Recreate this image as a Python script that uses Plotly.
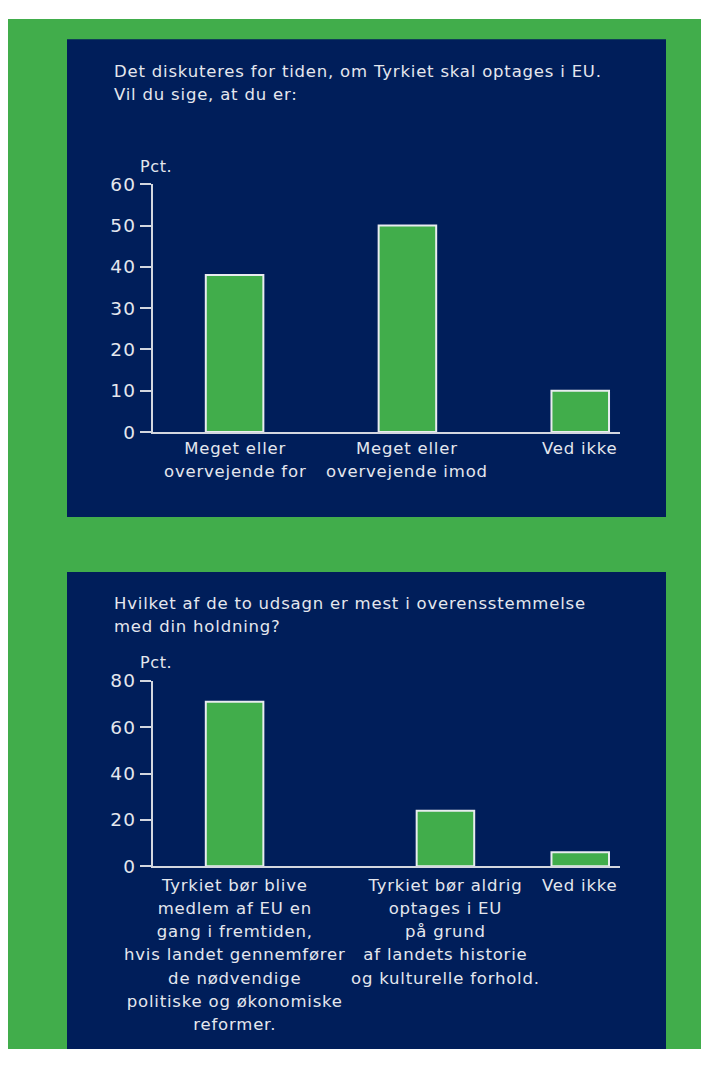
import plotly.graph_objects as go

# ---------------- data ----------------
q1_title = "Det diskuteres for tiden, om Tyrkiet skal optages i EU.<br>Vil du sige, at du er:"
q1_categories = ["Meget eller<br>overvejende for", "Meget eller<br>overvejende imod", "Ved ikke"]
q1_values = [38, 50, 10]
q1_yticks = [0, 10, 20, 30, 40, 50, 60]

q2_title = "Hvilket af de to udsagn er mest i overensstemmelse<br>med din holdning?"
q2_categories = [
    "Tyrkiet bør blive<br>medlem af EU en<br>gang i fremtiden,<br>hvis landet gennemfører<br>de nødvendige<br>politiske og økonomiske<br>reformer.",
    "Tyrkiet bør aldrig<br>optages i EU<br>på grund<br>af landets historie<br>og kulturelle forhold.",
    "Ved ikke",
]
q2_values = [71, 24, 6]
q2_yticks = [0, 20, 40, 60, 80]

unit_label = "Pct."

# ---------------- style / layout ----------------
PAGE_W, PAGE_H = 709, 1067
OFF = 8                      # browser body margin (horizontal)
TOP = 18                     # observed vertical page offset of the figure
SY = 0.9807                  # observed vertical scale of the captured page
W, H = PAGE_W - 2 * OFF, PAGE_H - 2 * OFF
GREEN = "#41AD4B"
NAVY = "#001E5A"
TXT = "#E4E7EE"
AXC = "#D3D7DF"
FONT = "DejaVu Sans"
FS = 16.5          # glyph size
LSP = 0.8          # letter spacing
LS = 17.8          # base size used for line spacing (~23px leading)

# slot positions on the x axes (layout, not data)
slots1 = [0, 1, 2]
slots2 = [0, 1.22, 2]
xrange_ = [-0.472, 2.23]
bar_w = 0.333


def px(x):
    return (x - OFF) / W


def py(y):
    return min(1.0, max(0.0, 1 - (y / SY - TOP) / H))


def sized(t, fs=FS, lsp=LSP):
    return f'<span style="font-size:{fs}px;letter-spacing:{lsp}px">{t}</span>'


fig = go.Figure()

fig.add_trace(go.Bar(
    x=slots1, y=q1_values, width=bar_w, xaxis="x", yaxis="y",
    marker=dict(color=GREEN, line=dict(color="#E8ECEF", width=2)),
    hoverinfo="skip", showlegend=False,
))
fig.add_trace(go.Bar(
    x=slots2, y=q2_values, width=bar_w, xaxis="x2", yaxis="y2",
    marker=dict(color=GREEN, line=dict(color="#E8ECEF", width=2)),
    hoverinfo="skip", showlegend=False,
))

xcommon = dict(
    range=xrange_, showgrid=False, zeroline=False, showline=True,
    linecolor=AXC, linewidth=2, ticks="", showticklabels=False, fixedrange=True,
)
ycommon = dict(
    showgrid=False, zeroline=False, showline=True, linecolor=AXC, linewidth=2,
    ticks="outside", ticklen=11, tickwidth=2, tickcolor=AXC,
    tickfont=dict(family=FONT, size=18.5, color=TXT), fixedrange=True,
    tickmode="array",
)


def cat_labels(slots, cats, xref, top_y):
    return [
        dict(text=sized(c), xref=xref, yref="paper", x=s, y=py(top_y),
             xanchor="center", yanchor="top", align="center", showarrow=False,
             font=dict(family=FONT, size=LS, color=TXT))
        for s, c in zip(slots, cats)
    ]


annotations = [
    dict(text=sized(q1_title), xref="paper", yref="paper", x=px(112), y=py(59),
         xanchor="left", yanchor="top", align="left", showarrow=False,
         font=dict(family=FONT, size=LS, color=TXT)),
    dict(text=sized(q2_title), xref="paper", yref="paper", x=px(112), y=py(591),
         xanchor="left", yanchor="top", align="left", showarrow=False,
         font=dict(family=FONT, size=LS, color=TXT)),
    dict(text=sized(unit_label, 16, 0.6), xref="paper", yref="paper", x=px(138), y=py(165),
         xanchor="left", yanchor="middle", showarrow=False,
         font=dict(family=FONT, size=16, color=TXT)),
    dict(text=sized(unit_label, 16, 0.6), xref="paper", yref="paper", x=px(138), y=py(662),
         xanchor="left", yanchor="middle", showarrow=False,
         font=dict(family=FONT, size=16, color=TXT)),
]
annotations += cat_labels(slots1, q1_categories, "x", 436)
annotations += cat_labels(slots2, q2_categories, "x2", 873.5)

fig.update_layout(
    width=W, height=H, margin=dict(l=0, r=0, t=0, b=0),
    paper_bgcolor="white", plot_bgcolor="rgba(0,0,0,0)",
    bargap=0,
    xaxis=dict(**xcommon, domain=[px(153), px(620)], anchor="y"),
    yaxis=dict(**ycommon, domain=[py(431), py(183)], anchor="x", range=[0, 60],
               tickvals=q1_yticks, ticktext=[sized(str(v), 18.5, 1.2) for v in q1_yticks]),
    xaxis2=dict(**xcommon, domain=[px(153), px(620)], anchor="y2"),
    yaxis2=dict(**ycommon, domain=[py(865.5), py(680)], anchor="x2", range=[0, 80],
                tickvals=q2_yticks, ticktext=[sized(str(v), 18.5, 1.2) for v in q2_yticks]),
    shapes=[
        dict(type="rect", xref="paper", yref="paper", x0=0, x1=1, y0=0, y1=1,
             fillcolor=GREEN, line=dict(width=0), layer="below"),
        dict(type="rect", xref="paper", yref="paper", x0=px(67), x1=px(666), y0=py(1050), y1=py(38),
             fillcolor=NAVY, line=dict(width=0), layer="below"),
        dict(type="rect", xref="paper", yref="paper", x0=0, x1=1, y0=py(571), y1=py(516),
             fillcolor=GREEN, line=dict(width=0), layer="below"),
    ],
    annotations=annotations,
)

fig.write_html("out.html", config={"displayModeBar": False, "staticPlot": True})
